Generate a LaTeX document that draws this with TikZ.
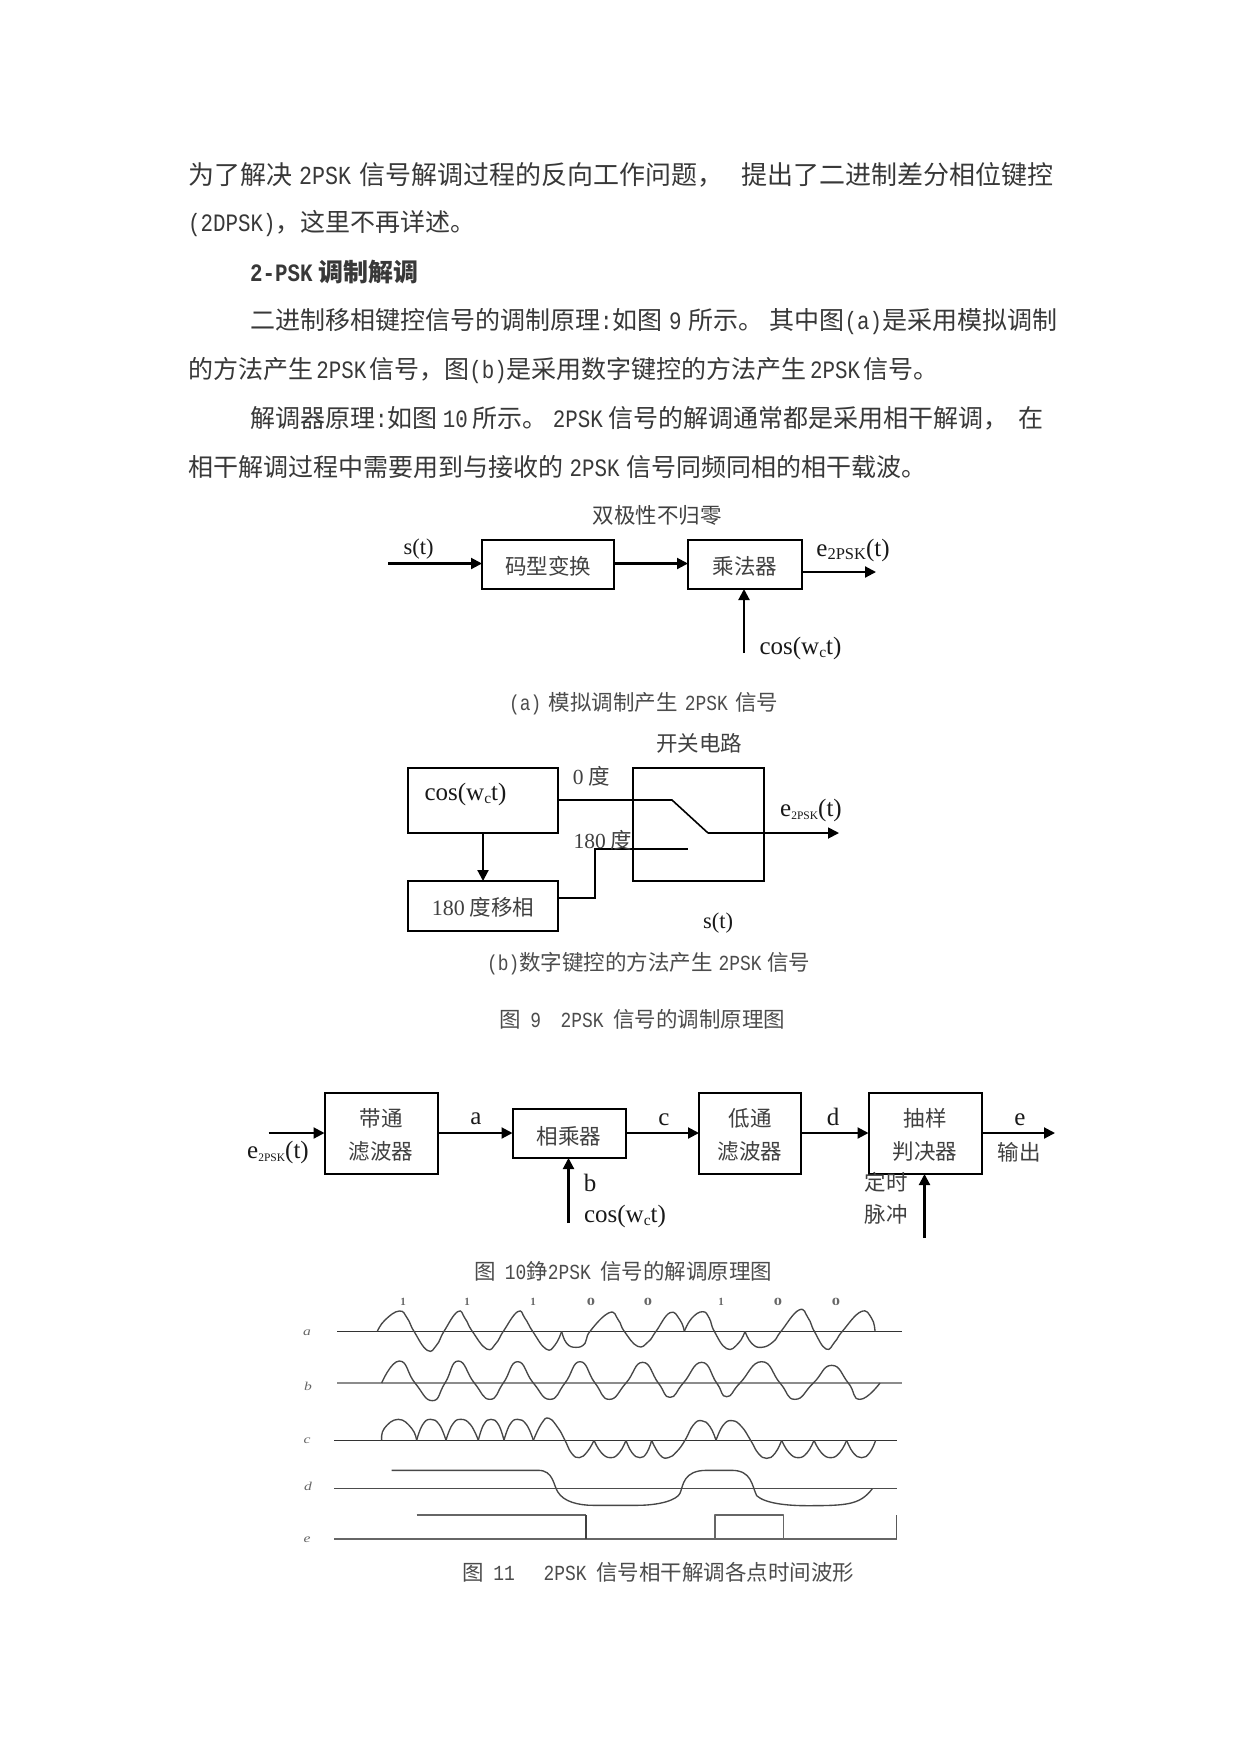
\documentclass[tikz,border=0pt]{standalone}
\usepackage{fontspec}
\setmainfont{Liberation Serif}
\newfontfamily\cjk{Noto Sans CJK SC}
\newfontfamily\lat[FakeStretch=0.833]{Liberation Mono}
\usetikzlibrary{arrows.meta}
\newcommand{\subt}[2]{{\fontsize{#1}{#1}\selectfont\raisebox{-3pt}{#2}}}
\tikzset{
  body/.style={inner sep=0pt,anchor=west,text=black!78,font=\cjk\fontsize{25}{25}\selectfont},
  capt/.style={inner sep=0pt,anchor=west,text=black!70,font=\cjk\fontsize{21.5}{21.5}\selectfont},
  lab/.style={inner sep=0pt,text=black!75,font=\cjk\fontsize{21.5}{21.5}\selectfont},
  rom/.style={inner sep=0pt,text=black!90,font=\fontsize{25}{25}\selectfont},
  rom small/.style={rom,font=\fontsize{22.5}{22.5}\selectfont},
  bx/.style={draw=black,line width=2pt,inner sep=0pt,outer sep=0pt},
  thin box/.style={bx,line width=1.5pt},
  wire/.style={line width=2.1pt,draw=black},
  thin wire/.style={line width=1.6pt,draw=black},
  arr/.style={wire,-{Triangle[length=11pt,width=11pt]}},
  wave/.style={line width=1.35pt,draw=black!72,line join=round},
  axis/.style={line width=1.1pt,draw=black!80},
  sig/.style={inner sep=0pt,text=black!60,font=\itshape\fontsize{12}{12}\selectfont},
  bit/.style={inner sep=0pt,text=black!60,font=\bfseries\fontsize{11}{11}\selectfont},
}
\begin{document}
\begin{tikzpicture}[x=1pt,y=-1pt]
\useasboundingbox[fill=white] (0,0) rectangle (1241,1754);
% body text
\node[body,font=\cjk\fontsize{26}{26}\selectfont] (t1) at (188,175) {\makebox[865pt][s]{为了解决\hspace{7pt}{\lat 2PSK}\hspace{8pt}信号解调过程的反向工作问题，\hfil 提出了二进制差分相位键控}};
\node[body] (t2) at (188,223.5) {{\lat (2DPSK)}，这里不再详述。};
\node[body,font=\cjk\bfseries\fontsize{25}{25}\selectfont] (t3) at (250,272) {{\lat 2-PSK} 调制解调};
\node[body] (t4) at (250,321.5) {\makebox[807pt][s]{二进制移相键控信号的调制原理{\lat :}如图\hfil{\lat 9}\hfil 所示。\hfil 其中图{\lat (a)}是采用模拟调制}};
\node[body] (t5) at (188,370.5) {\makebox[750pt][s]{的方法产生\hfil{\lat 2PSK}\hfil 信号，图{\lat (b)}是采用数字键控的方法产生\hfil{\lat 2PSK}\hfil 信号。}};
\node[body] (t6) at (250,418.5) {\makebox[793pt][s]{解调器原理{\lat :}如图\hfil{\lat 10}\hfil 所示。\hfil{\lat 2PSK}\hfil 信号的解调通常都是采用相干解调，\hfil\hfil 在}};
\node[body] (t7) at (188,467.5) {\makebox[738pt][s]{相干解调过程中需要用到与接收的\hfil{\lat 2PSK}\hfil 信号同频同相的相干载波。}};

% figure 9a
\node[lab] (la0) at (657,515) {双极性不归零};
\node[bx,minimum width=132pt,minimum height=49pt] (code) at (548,564.5) {};
\node[bx,minimum width=114pt,minimum height=49pt] (mul) at (745,564.5) {};
\node[lab] (tcode) at (548,566) {码型变换};
\node[lab] (tmul) at (745,566) {乘法器};
\coordinate (sa) at (388,563.5);
\coordinate (oa) at (876,572);
\coordinate (ca) at (744,653);
\draw[arr] (sa) -- (sa -| code.west);
\draw[arr] (code.east |- sa) -- (mul.west |- sa);
\draw[arr] (mul.east |- oa) -- (oa);
\draw[arr] (ca) -- (ca |- mul.south);
\node[rom small] (lsa) at (418.5,549) {s(t)};
\node[rom] (lea) at (853,550) {e\subt{16.5}{2PSK}(t)};
\node[rom] (lca) at (800.5,648) {cos(w\subt{15.5}{c}t)};
\node[capt] (capa) at (509,704) {\makebox[269pt][s]{{\lat (a)}\hfil 模拟调制产生\hfil{\lat 2PSK}\hfil 信号}};

% figure 9b
\node[lab] (lb0) at (699,743) {开关电路};
\node[bx,minimum width=150pt,minimum height=65pt] (cosb) at (483,800.5) {};
\node[rom] (lcb) at (465.5,794) {cos(w\subt{15.5}{c}t)};
\node[thin box,minimum width=131pt,minimum height=113pt] (sw) at (698.5,824.5) {};
\node[bx,minimum width=150pt,minimum height=50pt] (shift) at (483,906) {};
\node[lab] (tshift) at (483,907.5) {{\fontsize{22}{22}\selectfont\rmfamily 180} 度移相};
\coordinate (s1) at (672,800);
\coordinate (s2) at (708,833);
\coordinate (ob) at (839,833);
\coordinate (w1) at (595,898);
\coordinate (w2) at (595,849);
\coordinate (w3) at (688,849);
\draw[thin wire] (cosb.east |- s1) -- (s1) -- (s2);
\draw[arr,line width=1.8pt] (s2) -- (ob);
\draw[thin wire] (shift.east |- w1) -- (w1) -- (w2) -- (w3);
\draw[arr] (cosb.south) -- (shift.north);
\node[lab] (l0d) at (591.5,776) {{\rmfamily 0} 度};
\node[lab] (l180) at (603,840) {{\rmfamily 180} 度};
\node[rom] (leb) at (811,810) {e\subt{11.5}{2PSK}(t)};
\node[rom small] (lsb) at (718,923) {s(t)};
\node[capt] (capb) at (487,964) {\makebox[323pt][s]{{\lat (b)}数字键控的方法产生\hfil{\lat 2PSK}\hfil 信号}};
\node[capt] (cap9) at (499,1019) {\makebox[286pt][s]{图\hfil{\lat 9}\hfil\hfil{\lat 2PSK}\hfil 信号的调制原理图}};

% figure 10
\node[bx,minimum width=113pt,minimum height=81pt] (bpf) at (381,1133.5) {};
\node[bx,minimum width=113pt,minimum height=49pt] (xm) at (569,1133.5) {};
\node[thin box,minimum width=102pt,minimum height=81pt] (lpf) at (750,1133.5) {};
\node[bx,minimum width=113pt,minimum height=81pt] (dec) at (925,1133.5) {};
\node[lab] (tb1) at (381,1118) {带通};
\node[lab] (tb2) at (381,1151.5) {滤波器};
\node[lab] (tx) at (569,1136) {相乘器};
\node[lab] (tl1) at (750,1118) {低通};
\node[lab] (tl2) at (750,1151.5) {滤波器};
\node[lab] (td1) at (925,1118) {抽样};
\node[lab] (td2) at (925,1151.5) {判决器};
\coordinate (in) at (268.5,1133);
\coordinate (outc) at (1055,1133);
\coordinate (cc) at (568.5,1223);
\coordinate (tc) at (924.5,1238);
\draw[arr] (in) -- (in -| bpf.west);
\draw[arr] (bpf.east |- in) -- (xm.west |- in);
\draw[arr] (xm.east |- in) -- (lpf.west |- in);
\draw[arr] (lpf.east |- in) -- (dec.west |- in);
\draw[arr] (dec.east |- in) -- (outc);
\draw[arr] (cc) -- (cc |- xm.south);
\draw[arr] (tc) -- (tc |- dec.south);
\node[rom] (la) at (476,1119) {a};
\node[rom] (lc) at (664,1119.5) {c};
\node[rom] (ld) at (833,1117) {d};
\node[rom] (le) at (1020,1119.5) {e};
\node[rom] (lb) at (590,1183) {b};
\node[rom] (lec) at (278,1152) {e\subt{11.5}{2PSK}(t)};
\node[rom] (lcc) at (625,1216) {cos(w\subt{15.5}{c}t)};
\node[lab] (lo) at (1019,1152) {输出};
\node[lab] (lt1) at (886,1182) {定时};
\node[lab] (lt2) at (886,1214) {脉冲};
\node[capt] (cap10) at (474,1271) {\makebox[298pt][s]{图\hfil{\lat 10}錚{\lat 2PSK}\hfil 信号的解调原理图}};

% figure 11 (units are 1/3 px)
\node[bit] (b1) at (403,1302) {1};
\node[bit] (b2) at (467,1302) {1};
\node[bit] (b3) at (533,1302) {1};
\node[bit] (b4) at (591,1302) {\scalebox{1.5}[1]{0}};
\node[bit] (b5) at (648,1302) {\scalebox{1.5}[1]{0}};
\node[bit] (b6) at (721,1302) {1};
\node[bit] (b7) at (778,1302) {\scalebox{1.5}[1]{0}};
\node[bit] (b8) at (836,1302) {\scalebox{1.5}[1]{0}};
\node[sig] (sa1) at (307,1333) {\scalebox{1.3}[1]{a}};
\node[sig] (sb1) at (308,1386) {\scalebox{1.3}[1]{b}};
\node[sig] (sc1) at (307,1441) {\scalebox{1.3}[1]{c}};
\node[sig] (sd1) at (308,1486) {\scalebox{1.3}[1]{d}};
\node[sig] (se1) at (307,1540) {\scalebox{1.3}[1]{e}};
\draw[axis] (337,1331.3) -- (902,1331.3);
\draw[axis,line width=1.5pt,draw=black!45] (337,1383) -- (902,1383);
\draw[axis] (334,1440.3) -- (897,1440.3);
\draw[axis,draw=black!70] (334,1488.3) -- (897,1488.3);
\draw[axis,draw=black!60] (334,1539) -- (897,1539);
\begin{scope}[x=0.33333pt,y=-0.33333pt,xshift=290pt,yshift=-1290pt]
% wave a
\draw[wave] plot[smooth,tension=0.8] coordinates {(262,124)(285,90)(328,63)(352,85)(372,124)(412,181)(440,165)(462,124)(503,65)(525,85)(547,124)(590,177)(618,160)(640,124)(683,65)(705,85)(728,124)(768,177)(795,165)(815,124)};
\draw[wave] plot[smooth,tension=0.8] coordinates {(815,124)(830,160)(858,172)(885,160)(900,124)(958,68)(985,90)(1003,124)(1043,169)(1075,155)(1098,124)(1140,68)(1170,90)(1183,124)};
\draw[wave] plot[smooth,tension=0.8] coordinates {(1183,124)(1205,85)(1238,65)(1258,85)(1273,124)(1310,176)(1345,160)(1365,124)};
\draw[wave] plot[smooth,tension=0.8] coordinates {(1365,124)(1385,160)(1415,172)(1450,155)(1473,124)(1527,60)(1555,85)(1573,124)(1608,177)(1635,155)(1657,124)(1713,65)(1745,85)(1755,124)};
% wave b
\draw[wave] plot[smooth,tension=0.9] coordinates {(275,279)(328,213)(375,279)(427,332)(465,279)(505,213)(553,279)(600,328)(640,279)(683,215)(730,279)(780,328)(825,279)(870,215)(915,279)(958,328)(1008,279)(1058,217)(1105,279)(1140,322)(1180,279)(1235,217)(1280,279)(1310,320)(1350,279)(1415,215)(1470,279)(1515,328)(1570,279)(1625,226)(1675,279)(1710,328)(1770,279)};
% wave c
\draw[wave] plot[smooth,tension=0.8] coordinates {(275,451)(283,415)(325,388)(365,415)(380,451)};
\foreach \p/\q/\r in {380/422/468,468/512/565,565/603/642,642/683/730}
  \draw[wave] plot[smooth,tension=0.8] coordinates {(\p,451)({(\p+\q)/2-3},404)(\q,388)({(\q+\r)/2+3},404)(\r,451)};
\draw[wave] plot[smooth,tension=0.8] coordinates {(730,451)(755,400)(777,385)(805,415)(825,451)(845,490)(868,503)(892,485)(912,451)};
\foreach \p/\q/\r in {912/962/1008,1008/1050/1085}
  \draw[wave] plot[smooth,tension=0.8] coordinates {(\p,451)({(\p+\q)/2-3},488)(\q,503)({(\q+\r)/2+3},488)(\r,451)};
\draw[wave] plot[smooth,tension=0.8] coordinates {(1085,451)(1110,495)(1135,503)(1160,485)(1185,451)(1210,405)(1235,392)(1260,410)(1278,451)};
\draw[wave] plot[smooth,tension=0.8] coordinates {(1278,451)(1300,405)(1327,392)(1355,410)(1382,451)(1405,490)(1430,505)(1455,490)(1475,451)};
\foreach \p/\q/\r in {1475/1525/1572,1572/1622/1670,1670/1715/1757}
  \draw[wave] plot[smooth,tension=0.8] coordinates {(\p,451)({(\p+\q)/2-3},488)(\q,503)({(\q+\r)/2+3},488)(\r,451)};
% wave d
\draw[wave] (305,541) -- (745,541) .. controls (790,541) and (790,585) .. (803,605) .. controls (820,635) and (865,646) .. (910,646) -- (1040,646) .. controls (1110,646) and (1160,630) .. (1170,610) .. controls (1180,585) and (1180,541) .. (1250,541) -- (1325,541) .. controls (1385,541) and (1385,585) .. (1400,617) .. controls (1425,640) and (1490,647) .. (1550,647) .. controls (1670,647) and (1710,645) .. (1747,596);
% wave e
\draw[wave,draw=black!60] (380,675) -- (888,675);
\draw[wave,line width=1.6pt,draw=black!75] (888,675) -- (888,747);
\draw[wave,draw=black!60] (1275,747) -- (1275,675) -- (1480,675) -- (1480,747);
\draw[wave,line width=1.6pt,draw=black!65] (1820,675) -- (1820,747);
\end{scope}
\node[capt] (cap11) at (462,1572) {\makebox[392pt][s]{图\hfil{\lat 11}\hfil\hfil\hfil{\lat 2PSK}\hfil 信号相干解调各点时间波形}};
\end{tikzpicture}
\end{document}
